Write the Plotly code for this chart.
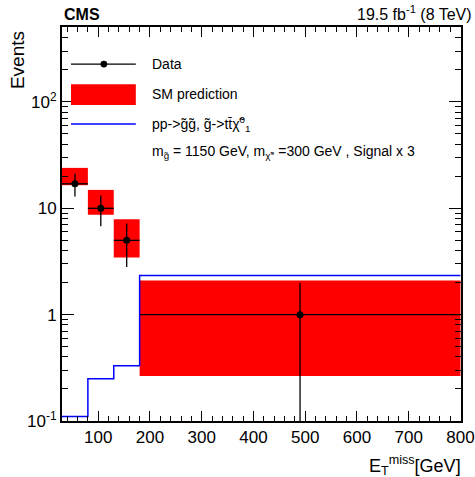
import plotly.graph_objects as go

# ---- data ----
bin_edges = [30, 80, 130, 180, 800]
data_x = [55, 105, 155, 490]
data_y = [17, 10, 5, 1]
data_err_up = [4.1, 3.2, 2.2, 1.0]
data_err_dn = [4.1, 3.2, 2.2, 0.999]
sm_low = [16.5, 8.7, 3.45, 0.265]
sm_high = [24.0, 14.9, 7.9, 2.1]
sig_y = [0.11, 0.25, 0.33, 2.34]

FONT = "Liberation Sans, Arial, sans-serif"

fig = go.Figure()

# SM prediction boxes
for i in range(len(sm_low)):
    x0, x1 = bin_edges[i], bin_edges[i + 1]
    fig.add_trace(go.Scatter(
        x=[x0, x1, x1, x0, x0], y=[sm_low[i], sm_low[i], sm_high[i], sm_high[i], sm_low[i]],
        fill="toself", fillcolor="#ff0000", line=dict(width=0), mode="lines",
        showlegend=False, hoverinfo="skip"))

# Signal step histogram
fig.add_trace(go.Scatter(
    x=bin_edges, y=sig_y + [sig_y[-1]], mode="lines", line_shape="hv",
    line=dict(color="#0000ff", width=1.5), showlegend=False))

# Data
x_minus = [data_x[i] - bin_edges[i] for i in range(len(data_x))]
x_plus = [bin_edges[i + 1] - data_x[i] for i in range(len(data_x))]
fig.add_trace(go.Scatter(
    x=data_x, y=data_y, mode="markers",
    marker=dict(color="black", size=7),
    error_y=dict(type="data", symmetric=False, array=data_err_up, arrayminus=data_err_dn,
                 color="black", thickness=1.3, width=0),
    error_x=dict(type="data", symmetric=False, array=x_plus, arrayminus=x_minus,
                 color="black", thickness=1.3, width=0),
    showlegend=False))

# ---- legend (manual) ----
lx0, lx1, ltx = 0.0226, 0.185, 0.221
fig.add_shape(type="line", xref="paper", yref="paper", x0=lx0, x1=lx1, y0=0.906, y1=0.906,
              line=dict(color="black", width=1.2))
fig.add_shape(type="circle", xref="paper", yref="paper", x0=0.105 - 0.0085, x1=0.105 + 0.0085,
              y0=0.906 - 0.0085, y1=0.906 + 0.0085, fillcolor="black", line=dict(width=0))
fig.add_shape(type="rect", xref="paper", yref="paper", x0=lx0, x1=lx1, y0=0.802, y1=0.855,
              fillcolor="#ff0000", line=dict(width=0))
fig.add_shape(type="line", xref="paper", yref="paper", x0=lx0, x1=lx1, y0=0.754, y1=0.754,
              line=dict(color="#0000ff", width=1.5))
leg_texts = [
    (0.906, "Data"),
    (0.83, "SM prediction"),
    (0.754, "pp->g̃g̃, g̃->tt̄χ̃<sup>0</sup><sub>1</sub>"),
    (0.683, "m<sub>g̃</sub> = 1150 GeV, m<sub>χ̃°</sub> =300 GeV , Signal x 3"),
]
for y, t in leg_texts:
    fig.add_annotation(x=ltx, y=y, xref="paper", yref="paper", text=t, showarrow=False,
                       xanchor="left", yanchor="middle", font=dict(family=FONT, size=14, color="black"))

# header texts
fig.add_annotation(x=0.0, y=1.005, xref="paper", yref="paper", text="<b>CMS</b>", showarrow=False,
                   xanchor="left", yanchor="bottom", font=dict(family=FONT, size=16, color="black"))
fig.add_annotation(x=1.033, y=1.005, xref="paper", yref="paper", text="19.5 fb<sup>-1</sup> (8 TeV)",
                   showarrow=False, xanchor="right", yanchor="bottom",
                   font=dict(family=FONT, size=16, color="black"))
# axis titles
fig.add_annotation(x=1.005, y=-0.075, xref="paper", yref="paper", text="E<sub>T</sub><sup>miss</sup>[GeV]",
                   showarrow=False, xanchor="right", yanchor="top",
                   font=dict(family=FONT, size=18, color="black"))
fig.add_annotation(x=-0.11, y=0.995, xref="paper", yref="paper", text="Events", textangle=-90,
                   showarrow=False, xanchor="center", yanchor="top",
                   font=dict(family=FONT, size=19, color="black"))

x_major = [100, 200, 300, 400, 500, 600, 700, 800]
x_minor = [v for v in range(40, 801, 20) if v % 100 != 0]
y_major = [0.1, 1, 10, 100]
y_major_text = ["10<sup>-1</sup>", "1", "10", "10<sup>2</sup>"]
y_minor = [m * 10 ** e for e in range(-1, 3) for m in range(2, 10)]

fig.update_layout(
    width=475, height=477,
    margin=dict(l=62, r=14, t=27, b=56, autoexpand=False),
    plot_bgcolor="white", paper_bgcolor="white",
    font=dict(family=FONT, size=17, color="black"),
    xaxis=dict(range=[30, 801], automargin=False, showgrid=False, zeroline=False, showline=True, linecolor="black",
               linewidth=2, mirror="ticks", ticks="inside", ticklen=10, tickwidth=1, tickcolor="black",
               tickvals=x_major, ticktext=[str(v) for v in x_major],
               minor=dict(tickvals=x_minor, ticks="inside", ticklen=5, tickcolor="black", tickwidth=1, showgrid=False)),
    yaxis=dict(type="log", range=[-1, 2.705], automargin=False, showgrid=False, zeroline=False, showline=True,
               linecolor="black", linewidth=2, mirror="ticks", ticks="inside", ticklen=12, tickwidth=1,
               tickcolor="black", tickvals=y_major, ticktext=y_major_text,
               minor=dict(tickvals=y_minor, ticks="inside", ticklen=6, tickcolor="black", tickwidth=1, showgrid=False)),
)

fig.write_html("out.html", config={"displayModeBar": False},
               post_script="document.body.style.margin='0';document.body.style.overflow='hidden';")
